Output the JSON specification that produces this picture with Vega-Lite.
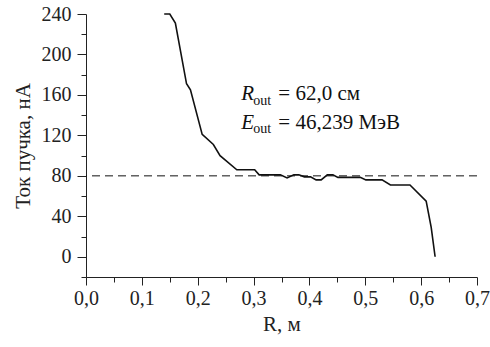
{
  "$schema": "https://vega.github.io/schema/vega-lite/v6.json",
  "width": 391,
  "height": 263,
  "autosize": {"type": "none"},
  "padding": {"left": 86, "top": 14, "right": 13, "bottom": 70},
  "config": {
    "view": {"stroke": null},
    "font": "Liberation Serif",
    "axis": {
      "labelFont": "Liberation Serif",
      "titleFont": "Liberation Serif",
      "labelFontSize": 20,
      "titleFontSize": 21,
      "labelColor": "#222",
      "titleColor": "#222",
      "domainColor": "#222",
      "tickColor": "#222",
      "titleFontWeight": "normal",
      "grid": false
    }
  },
  "resolve": {"axis": {"x": "independent", "y": "independent"}},
  "layer": [
    {
      "data": {"values": [
        {"r": 0.140, "i": 240}, {"r": 0.150, "i": 240}, {"r": 0.160, "i": 231},
        {"r": 0.180, "i": 171}, {"r": 0.187, "i": 165}, {"r": 0.208, "i": 121},
        {"r": 0.228, "i": 111}, {"r": 0.240, "i": 100}, {"r": 0.270, "i": 86},
        {"r": 0.302, "i": 86}, {"r": 0.310, "i": 81}, {"r": 0.348, "i": 81},
        {"r": 0.360, "i": 78}, {"r": 0.372, "i": 81}, {"r": 0.381, "i": 81},
        {"r": 0.391, "i": 79}, {"r": 0.402, "i": 79}, {"r": 0.412, "i": 76},
        {"r": 0.421, "i": 76}, {"r": 0.432, "i": 81}, {"r": 0.442, "i": 81},
        {"r": 0.451, "i": 78.5}, {"r": 0.491, "i": 78.5}, {"r": 0.501, "i": 76},
        {"r": 0.530, "i": 76}, {"r": 0.545, "i": 71}, {"r": 0.580, "i": 71},
        {"r": 0.609, "i": 55}, {"r": 0.618, "i": 29}, {"r": 0.625, "i": 0}
      ]},
      "mark": {"type": "line", "color": "#111", "strokeWidth": 1.6},
      "encoding": {
        "x": {
          "field": "r", "type": "quantitative",
          "scale": {"domain": [0, 0.7], "nice": false, "zero": false},
          "axis": {
            "orient": "bottom",
            "title": "R, м",
            "values": [0, 0.1, 0.2, 0.3, 0.4, 0.5, 0.6, 0.7],
            "labelExpr": "replace(format(datum.value,'.1f'),'.',',')",
            "tickSize": 8,
            "labelPadding": 3,
            "titlePadding": 5,
            "labelFlush": false,
            "labelOverlap": false
          }
        },
        "y": {
          "field": "i", "type": "quantitative",
          "scale": {"domain": [-20, 240], "nice": false, "zero": false},
          "axis": {
            "orient": "left",
            "title": "Ток пучка, нА",
            "values": [0, 40, 80, 120, 160, 200, 240],
            "format": "d",
            "tickSize": 9,
            "labelPadding": 6,
            "titlePadding": 8,
            "labelOverlap": false
          }
        }
      }
    },
    {
      "data": {"values": [{"i": 80}]},
      "mark": {"type": "rule", "color": "#111", "strokeWidth": 1, "strokeDash": [8, 5]},
      "encoding": {"y": {"field": "i", "type": "quantitative",
        "axis": {"orient": "left", "values": [-20, 20, 60, 100, 140, 180, 220], "labels": false, "tickSize": 5, "domain": false, "title": null}}}
    },
    {
      "data": {"values": [{"r": 0.278, "i": 155, "t": "R"}, {"r": 0.278, "i": 126.5, "t": "E"}]},
      "mark": {"type": "text", "align": "left", "baseline": "alphabetic", "fontSize": 21, "fontStyle": "italic", "font": "Liberation Serif", "color": "#111"},
      "encoding": {
        "x": {"field": "r", "type": "quantitative",
          "axis": {"orient": "bottom", "values": [0.05, 0.15, 0.25, 0.35, 0.45, 0.55, 0.65], "labels": false, "tickSize": 5, "domain": false, "title": null}},
        "y": {"field": "i", "type": "quantitative", "axis": null},
        "text": {"field": "t"}
      }
    },
    {
      "data": {"values": [{"r": 0.2995, "i": 150.5, "t": "out"}, {"r": 0.2995, "i": 122, "t": "out"}]},
      "mark": {"type": "text", "align": "left", "baseline": "alphabetic", "fontSize": 14, "font": "Liberation Serif", "color": "#111"},
      "encoding": {
        "x": {"field": "r", "type": "quantitative", "axis": null},
        "y": {"field": "i", "type": "quantitative", "axis": null},
        "text": {"field": "t"}
      }
    },
    {
      "data": {"values": [{"r": 0.3443, "i": 155, "t": "= 62,0 см"}, {"r": 0.3443, "i": 126.5, "t": "= 46,239 МэВ"}]},
      "mark": {"type": "text", "align": "left", "baseline": "alphabetic", "fontSize": 21, "font": "Liberation Serif", "color": "#111"},
      "encoding": {
        "x": {"field": "r", "type": "quantitative", "axis": null},
        "y": {"field": "i", "type": "quantitative", "axis": null},
        "text": {"field": "t"}
      }
    }
  ]
}
